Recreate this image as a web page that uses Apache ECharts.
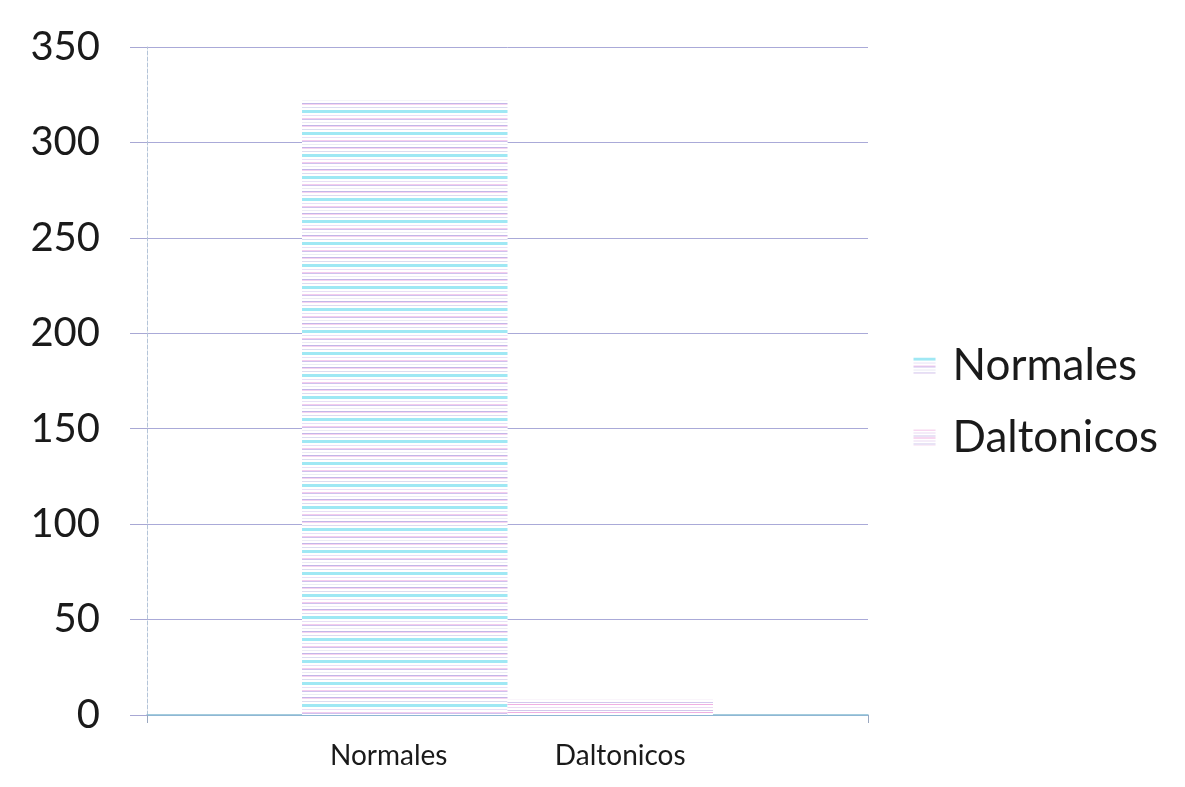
<!DOCTYPE html>
<html>
<head>
<meta charset="utf-8">
<script src="https://cdn.jsdelivr.net/npm/echarts@6/dist/echarts.min.js"></script>
<style>
html,body{margin:0;padding:0;background:#fff;}
#c{width:1185px;height:787px;}
</style>
</head>
<body>
<div id="c"></div>
<script>
// ---- data ----
const categories = [''];
const seriesNames = ['Normales', 'Daltonicos'];
const normalesValues = [322];
const daltonicosValues = [8];
const yTicks = { min: 0, max: 350, interval: 50 };

// ---- striped fill patterns (style only) ----
function stripes(h, rows) {
  const c = document.createElement('canvas');
  c.width = 4; c.height = h;
  const g = c.getContext('2d');
  g.fillStyle = '#ffffff'; g.fillRect(0, 0, 4, h);
  rows.forEach(r => { g.fillStyle = r[1]; g.fillRect(0, r[0], 4, r[2] || 1); });
  return c;
}
const normPattern = stripes(22, [
  [0, '#9fe8f4', 3], [5, '#e8e0f6'], [8, '#f4cdee'], [9, '#cec2ee'],
  [12, '#ebebf5'], [15, '#c3b6e8'], [16, '#f7d4f1'], [19, '#dcdcf0']
]);
const daltPattern = stripes(8, [
  [0, '#f0b0e2'], [3, '#ecdaf3'], [6, '#d2c8ec']
]);

const chart = echarts.init(document.getElementById('c'), null, { renderer: 'canvas' });
const font = 'Lato, "Open Sans", sans-serif';

chart.setOption({
  backgroundColor: '#ffffff',
  animation: false,
  textStyle: { fontFamily: font },
  grid: { left: 147, right: 317, top: 47, bottom: 72, containLabel: false },
  legend: {
    orient: 'vertical',
    right: 22,
    top: 338,
    itemWidth: 22,
    itemHeight: 16,
    itemGap: 27,
    icon: 'rect',
    textStyle: { fontSize: 44, color: '#1a1a1a', fontFamily: font, lineHeight: 45, padding: [0, 0, 0, 12] },
    data: seriesNames
  },
  xAxis: {
    type: 'category',
    data: categories,
    axisLine: { show: true, lineStyle: { color: '#86bcd2', width: 1.5 } },
    axisTick: { show: true, length: 8, lineStyle: { color: '#9aa8c0' } },
    axisLabel: { show: false }
  },
  yAxis: {
    type: 'value',
    min: yTicks.min,
    max: yTicks.max,
    interval: yTicks.interval,
    axisLine: { show: true, lineStyle: { color: '#b4c4d8', type: 'dashed' } },
    axisTick: { show: true, inside: false, length: 17, lineStyle: { color: '#a8a8d4' } },
    axisLabel: { fontSize: 40, color: '#1a1a1a', margin: 47, fontFamily: font },
    splitLine: { show: true, lineStyle: { color: '#aaaad8', width: 1 } }
  },
  series: [
    {
      name: seriesNames[0],
      type: 'bar',
      data: normalesValues,
      barGap: '0%',
      barCategoryGap: '43%',
      itemStyle: { color: { image: normPattern, repeat: 'repeat' } },
      label: {
        show: true, position: 'bottom', distance: 27, offset: [-16, 0],
        formatter: '{a}', fontSize: 28, color: '#1a1a1a', fontFamily: font
      }
    },
    {
      name: seriesNames[1],
      type: 'bar',
      data: daltonicosValues,
      barGap: '0%',
      barCategoryGap: '43%',
      itemStyle: { color: { image: daltPattern, repeat: 'repeat' } },
      label: {
        show: true, position: 'bottom', distance: 27, offset: [10, 0],
        formatter: '{a}', fontSize: 28, color: '#1a1a1a', fontFamily: font
      }
    }
  ]
});
</script>
</body>
</html>
